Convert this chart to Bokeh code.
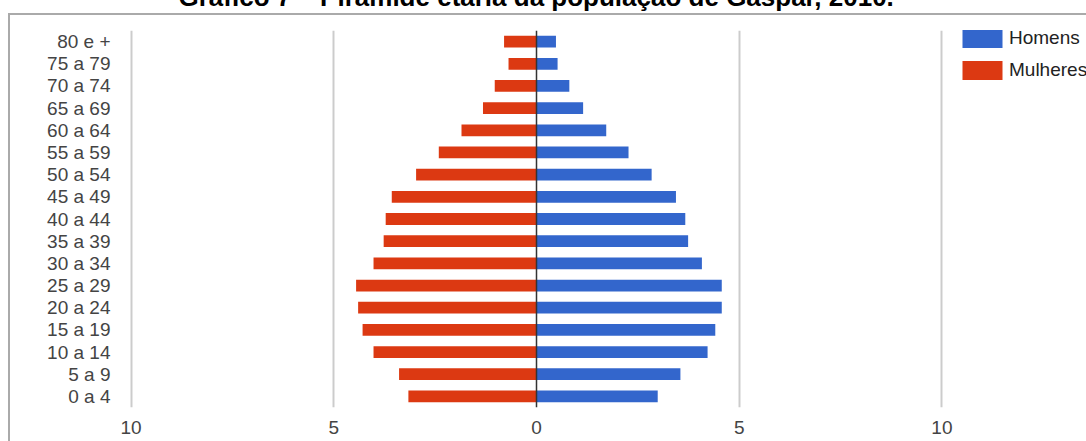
from bokeh.plotting import figure
from bokeh.models import (FactorRange, Range1d, FixedTicker, Span, Legend, LegendItem,
                          Title, ColumnDataSource, InlineStyleSheet)
from bokeh.embed import file_html
from bokeh.resources import INLINE

# ---- data (bottom to top) ----
faixas = ["0 a 4", "5 a 9", "10 a 14", "15 a 19", "20 a 24", "25 a 29", "30 a 34",
          "35 a 39", "40 a 44", "45 a 49", "50 a 54", "55 a 59", "60 a 64",
          "65 a 69", "70 a 74", "75 a 79", "80 e +"]
homens = [2.99, 3.55, 4.22, 4.41, 4.57, 4.57, 4.08, 3.74, 3.67, 3.44, 2.84, 2.27,
          1.72, 1.15, 0.81, 0.52, 0.48]
mulheres = [3.16, 3.39, 4.02, 4.29, 4.40, 4.45, 4.02, 3.77, 3.72, 3.57, 2.97, 2.41,
            1.85, 1.32, 1.03, 0.69, 0.80]
x_ticks = [-10, -5, 0, 5, 10]
x_tick_labels = ["10", "5", "0", "5", "10"]
titulo = "Gráfico 7 – Pirâmide etária da população de Gaspar, 2010."
serie_nomes = ["Homens", "Mulheres"]

BLUE = "#3366cc"
RED = "#dc3912"
FONT = "Liberation Sans"
FS = "19px"

src = ColumnDataSource(dict(
    faixa=faixas,
    h=homens,
    m_neg=[-v for v in mulheres],
    zero=[0] * len(faixas),
))

W, H = 1086, 441
FL, FR, FT, FB = 120, 1086, 30, 407
X0, PX = 536, 40.54   # pixel of zero, pixels per unit

border_css = InlineStyleSheet(css="""
:host { position: relative; }
:host::after {
  content: "";
  position: absolute;
  left: 7.5px; top: 12.5px;
  width: calc(100% - 7.5px); height: calc(100% - 12.5px);
  border-left: 2px solid #aaaaaa; border-top: 2px solid #aaaaaa;
  box-sizing: border-box;
  pointer-events: none;
}
""")

p = figure(width=W, height=H, output_backend="svg", toolbar_location=None,
           y_range=FactorRange(factors=faixas, range_padding=0),
           x_range=Range1d((FL - X0) / PX, (FR - X0) / PX),
           min_border_left=FL, min_border_right=W - FR,
           min_border_top=FT, min_border_bottom=H - FB,
           stylesheets=[border_css])
p.outline_line_color = None
p.background_fill_color = "white"
p.border_fill_color = "white"

# title: only its lower part shows, the top is cut by the image edge
p.title = Title(text=titulo, align="left", offset=178 - FL, vertical_align="top",
                standoff=-97, text_font=FONT, text_font_style="bold",
                text_font_size="26px", text_color="#000000")

# grid
p.ygrid.grid_line_color = None
p.xgrid.ticker = FixedTicker(ticks=[-10, -5, 5, 10])
p.xgrid.grid_line_color = "#cccccc"
p.xgrid.grid_line_width = 2

# bars
rh = p.hbar(y="faixa", left="zero", right="h", height=0.53, source=src,
            fill_color=BLUE, line_color=None)
rm = p.hbar(y="faixa", left="m_neg", right="zero", height=0.53, source=src,
            fill_color=RED, line_color=None)

# baseline
p.add_layout(Span(location=0, dimension="height", line_color="#333333", line_width=1.5))

# axes
p.xaxis.ticker = FixedTicker(ticks=x_ticks)
p.xaxis.major_label_overrides = {t: l for t, l in zip(x_ticks, x_tick_labels)}
for ax in (p.xaxis[0], p.yaxis[0]):
    ax.axis_line_color = None
    ax.major_tick_line_color = None
    ax.minor_tick_line_color = None
    ax.major_tick_out = 0
    ax.major_tick_in = 0
    ax.minor_tick_out = 0
    ax.major_label_text_font = FONT
    ax.major_label_text_font_size = FS
    ax.major_label_text_color = "#444444"
p.xaxis.major_label_standoff = 13
p.yaxis.major_label_standoff = 10

# legend
legend = Legend(items=[LegendItem(label=serie_nomes[0], renderers=[rh]),
                       LegendItem(label=serie_nomes[1], renderers=[rm])],
                location=(957 - FL, (FB - FT) - 56 + 4),
                orientation="vertical",
                glyph_width=50, glyph_height=24, label_standoff=2, spacing=8,
                padding=0, margin=0, border_line_color=None,
                background_fill_alpha=0,
                label_text_font=FONT, label_text_font_size=FS,
                label_text_color="#222222")
p.add_layout(legend)

open("out.html", "w").write(file_html(p, INLINE))
